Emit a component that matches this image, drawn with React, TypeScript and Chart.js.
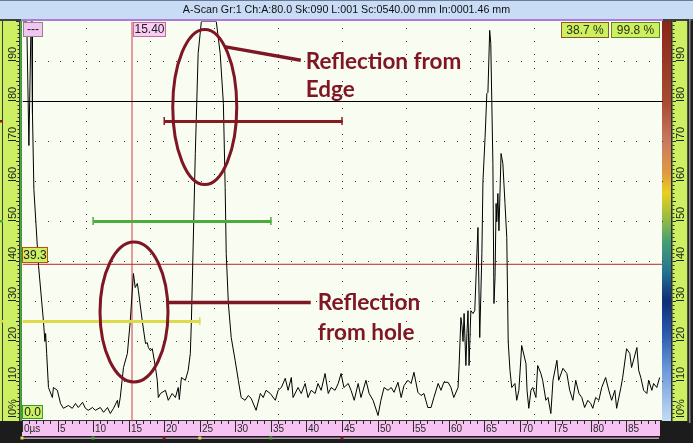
import React, { useEffect, useRef } from "react";
import { Chart, registerables } from "chart.js";

Chart.register(...registerables);

// ---------- DATA ----------
const traceTime = [
  0.0, 0.6, 0.9, 1.2, 1.3, 1.4, 1.6, 2.25, 2.95, 3.15, 3.25, 3.4, 3.65, 4.2, 4.35, 4.9, 5.35, 5.75, 6.45, 7.0,
  7.45, 7.85, 8.45, 8.85, 9.25, 9.85, 10.25, 10.95, 11.4, 11.95, 12.35, 12.8, 13.35, 13.5, 13.75, 14.2, 14.75, 15.15, 15.6, 15.85,
  16.15, 16.3, 16.85, 17.3, 17.55, 17.7, 18.0, 18.25, 18.7, 18.95, 19.1, 19.4, 20.1, 20.5, 21.05, 21.5, 21.9, 22.05, 22.35, 22.9,
  23.3, 23.6, 23.75, 24.3, 24.7, 25.15, 27.25, 27.8, 28.25, 28.5, 28.65, 28.95, 29.35, 29.9, 30.35, 30.75, 31.3, 31.75, 32.15, 32.85,
  33.45, 33.85, 34.25, 34.85, 35.55, 35.95, 36.4, 36.95, 37.35, 37.8, 38.05, 38.75, 39.2, 39.75, 40.15, 40.6, 41.15, 41.55, 42.0, 42.55,
  43.0, 43.4, 43.95, 44.4, 44.8, 45.2, 45.8, 46.2, 46.65, 47.2, 47.6, 48.3, 48.75, 49.3, 50.0, 50.4, 50.85, 51.4, 51.85, 52.25,
  52.8, 53.25, 53.65, 54.2, 54.65, 55.05, 55.6, 56.05, 56.45, 57.0, 57.45, 57.85, 58.45, 58.85, 59.25, 59.85, 60.25, 60.65, 61.25, 61.4,
  61.65, 61.8, 61.95, 62.1, 62.35, 62.5, 62.65, 62.8, 63.05, 63.35, 63.6, 63.9, 64.05, 64.3, 64.6, 64.75, 65.05, 65.3, 65.45, 65.7,
  65.85, 66.15, 66.3, 66.45, 66.6, 66.7, 66.85, 67.0, 67.3, 67.55, 67.85, 68.1, 68.3, 68.55, 68.8, 69.25, 69.5, 69.8, 70.2, 70.8,
  70.95, 71.2, 71.5, 71.75, 72.2, 72.45, 72.9, 73.15, 73.6, 73.9, 74.3, 74.6, 75.15, 75.4, 76.0, 76.55, 76.95, 77.4, 77.8, 78.25,
  78.65, 79.05, 79.5, 79.9, 80.2, 80.6, 81.05, 81.45, 82.0, 82.45, 82.85, 83.3, 83.55, 84.15, 84.4, 84.95, 85.4, 85.65, 86.4, 86.65,
  86.95, 87.35, 87.8, 88.05, 88.5, 88.75, 89.2, 89.6,
];
const traceAmp = [
  100, 100, 69, 100, 100, 77, 58, 39, 25, 20, 22, 17, 8.5, 6, 8.5, 7.8, 4.5, 3.3, 4, 3.3,
  4.5, 3.5, 4.8, 3.3, 2.8, 3.5, 2.8, 3.5, 2.3, 3.5, 2, 3.3, 5.3, 3.5, 6, 13.5, 17, 25, 37, 33.5,
  34.5, 32.7, 25, 19.5, 19.7, 18.5, 17.7, 18.2, 13.5, 10.3, 6, 7, 7.8, 5.3, 7, 6, 8.5, 5.5, 11, 10.3,
  12.8, 17, 25, 67, 92, 100, 100, 92, 79.5, 58.5, 42, 29.5, 21, 15.3, 10.3, 6, 5.3, 6.5, 5.8, 2.8,
  7, 6, 7.8, 7, 5.3, 7.8, 8.5, 10.8, 7.8, 11, 6, 8.5, 7, 9.5, 6, 7.8, 7, 9.5, 7.8, 12,
  7, 8.5, 7.8, 9.5, 12, 8.5, 9.5, 7.8, 5.3, 9.5, 6, 10.3, 7, 5.3, 1.5, 5.3, 8.5, 7.8, 8.5, 7.3,
  9.8, 6, 9, 10.3, 9.5, 12.3, 7.3, 6.5, 7, 3.5, 3.5, 6, 9.5, 7.8, 9.8, 9.8, 8.5, 6, 8.5, 14,
  26, 24, 20, 27, 14, 22, 27.7, 14, 27.7, 27, 27.7, 42, 48.5, 21, 42, 60, 71, 82, 82.3, 97.8,
  94.5, 64.5, 29.5, 36, 54.5, 50, 57, 47.7, 67, 64.5, 54.5, 46, 20, 12.8, 8.5, 9.5, 5.3, 7.8, 19, 14.5,
  7.8, 3.3, 7.8, 8.5, 6, 14, 12, 10.3, 5.3, 6, 2, 10.3, 15.3, 10.3, 13.3, 12, 7.8, 5.3, 10.3, 7,
  6, 3.5, 5.3, 4.5, 3.3, 6, 5.3, 8.5, 11, 7.8, 5.3, 7.8, 3.3, 8.5, 11, 18.2, 17, 13.5, 18.5, 12.8,
  11, 7.8, 7, 10.3, 7.8, 9.5, 8.5, 11,
];

const xTickValues = [0, 5, 10, 15, 20, 25, 30, 35, 40, 45, 50, 55, 60, 65, 70, 75, 80, 85];
const xTickLabels = ["0µs", "5", "10", "15", "20", "25", "30", "35", "40", "45", "50", "55", "60", "65", "70", "75", "80", "85"];
const yTickValues = [0, 10, 20, 30, 40, 50, 60, 70, 80, 90];
const yTickLabels = ["0%", "10", "20", "30", "40", "50", "60", "70", "80", "90"];
const gridTimes = [9, 18, 27, 36, 45, 54, 63, 72, 81];
const gridAmps = [10, 20, 30, 40, 50, 60, 70, 80, 90];

const gateStart = [0, 10, 20];
const gateEnd = [25, 35, 45];
const gateLevel = [25, 50, 75];

const refLevel = 80;
const cursorTime = 15.4;
const cursorAmp = 39.3;
const readouts = ["38.7 %", "99.8 %"];
const titleText = "A-Scan Gr:1 Ch:A:80.0 Sk:090 L:001 Sc:0540.00 mm In:0001.46 mm";
const edgeLabel = ["Reflection from", "Edge"];
const holeLabel = ["Reflection", "from hole"];

// ---------- STYLE / LAYOUT ----------
const W = 693;
const H = 443;
const GATE_COLORS = ["#dcdc48", "#4cac3c", "#861c22"];
const MAROON = "#7e1624";
const LIME = "#ccf062";
const PINK = "#f6c2f2";

// annotation geometry in data units
const ellipses = [
  { cx: 25.7, cy: 78.5, rx: 4.5, ry: 19.4 },
  { cx: 15.75, cy: 27.25, rx: 4.78, ry: 17.5 },
];
const pointers = [
  { x1: 28.45, y1: 93.6, x2: 39.2, y2: 90.2 },
  { x1: 20.5, y1: 29.6, x2: 40.6, y2: 29.6 },
];
const textSpots = [
  { x: 39.9, y: 89.7, t: edgeLabel[0] },
  { x: 39.9, y: 82.8, t: edgeLabel[1] },
  { x: 41.6, y: 29.5, t: holeLabel[0] },
  { x: 41.6, y: 22.0, t: holeLabel[1] },
];

function box(ctx: CanvasRenderingContext2D, x: number, y: number, w: number, h: number, bg: string, border: string, text: string, color: string) {
  x = Math.round(x);
  y = Math.round(y);
  ctx.fillStyle = bg;
  ctx.fillRect(x, y, w, h);
  ctx.strokeStyle = border;
  ctx.lineWidth = 1;
  ctx.strokeRect(x + 0.5, y + 0.5, w - 1, h - 1);
  ctx.fillStyle = color;
  ctx.font = "12px 'Liberation Sans', Arial, sans-serif";
  ctx.textAlign = "center";
  ctx.textBaseline = "middle";
  ctx.fillText(text, x + w / 2, y + h / 2 + 0.5);
}

function rotLabel(ctx: CanvasRenderingContext2D, cx: number, cy: number, text: string) {
  ctx.save();
  ctx.translate(cx, Math.round(cy));
  ctx.rotate(-Math.PI / 2);
  ctx.strokeStyle = "#202020";
  ctx.lineWidth = 1;
  ctx.beginPath();
  ctx.moveTo(0.5, -4);
  ctx.lineTo(0.5, 4);
  ctx.stroke();
  ctx.fillStyle = "#202020";
  ctx.font = "11px 'Liberation Sans', Arial, sans-serif";
  ctx.textAlign = "left";
  ctx.textBaseline = "middle";
  ctx.fillText(text, 2, 0.5);
  ctx.restore();
}

const decorPlugin = {
  id: "decor",
  beforeDraw(chart: any) {
    const { ctx, chartArea: a, scales } = chart;
    const xs = scales.x;
    const ys = scales.y;
    ctx.save();
    ctx.fillStyle = "#1c1c1c";
    ctx.fillRect(0, 0, W, H);
    // title bar
    ctx.fillStyle = "#c8dcf6";
    ctx.fillRect(0, 1, W, 18);
    ctx.fillStyle = "#6a7a90";
    ctx.fillRect(0, 0, W, 1);
    ctx.fillStyle = "#404040";
    ctx.fillRect(0, 19, W, 2);
    ctx.fillStyle = "#b07ad8";
    ctx.fillRect(a.left - 1, 19, a.width + 2, 2);
    ctx.fillStyle = "#101010";
    ctx.font = "10.7px 'Liberation Sans', Arial, sans-serif";
    ctx.textAlign = "center";
    ctx.textBaseline = "middle";
    ctx.fillText(titleText, W / 2, 10);

    // plot background
    ctx.fillStyle = "#f9fcf0";
    ctx.fillRect(a.left, a.top, a.width, a.height);

    // left strip
    ctx.fillStyle = LIME;
    ctx.fillRect(0, a.top, a.left, a.height);
    ctx.fillStyle = "#3a3a3a";
    ctx.fillRect(2, a.top, 1, a.height);
    ctx.fillRect(19, a.top, 1.5, a.height);
    ctx.fillStyle = "#38a038";
    ctx.fillRect(a.left - 1.5, a.top, 1.5, a.height);
    ctx.fillStyle = "#2a2a2a";
    for (let v = 0; v <= 100; v += 1) {
      const py = Math.round(ys.getPixelForValue(v));
      ctx.fillRect(v % 5 === 0 ? 16 : 17.5, py, v % 5 === 0 ? 3 : 1.5, 1);
    }
    for (let i = 0; i < yTickValues.length; i++) {
      const v = yTickValues[i];
      const py = v === 0 ? a.bottom - 4 : ys.getPixelForValue(v);
      rotLabel(ctx, 12, py, yTickLabels[i]);
    }
    // gate level markers at far left
    for (let i = 0; i < gateLevel.length; i++) {
      ctx.fillStyle = GATE_COLORS[i];
      ctx.fillRect(0, ys.getPixelForValue(gateLevel[i]) - 1, 3, 2.5);
    }

    // right colour bar
    const g = ctx.createLinearGradient(0, a.top, 0, a.bottom);
    g.addColorStop(0, "#8a2418");
    g.addColorStop(0.2, "#a84a30");
    g.addColorStop(0.3, "#c87a60");
    g.addColorStop(0.38, "#e09a40");
    g.addColorStop(0.43, "#e8d020");
    g.addColorStop(0.5, "#90b848");
    g.addColorStop(0.55, "#48a070");
    g.addColorStop(0.62, "#287890");
    g.addColorStop(0.7, "#102c78");
    g.addColorStop(0.78, "#2a58b0");
    g.addColorStop(0.87, "#6a98d8");
    g.addColorStop(1, "#c4dcf4");
    ctx.fillStyle = g;
    ctx.fillRect(a.right, a.top, 9, a.height);
    ctx.fillStyle = "#303030";
    ctx.fillRect(a.right + 9, a.top, 1.5, a.height);
    ctx.fillStyle = LIME;
    ctx.fillRect(a.right + 10.5, a.top, 15, a.height);
    ctx.fillStyle = "#2a2a2a";
    ctx.fillRect(a.right + 25.5, a.top - 2, 1.5, a.height + 4);
    ctx.fillStyle = "#8a8a8a";
    ctx.fillRect(a.right + 27, a.top - 2, 1.5, a.height + 4);
    ctx.fillStyle = "#2a2a2a";
    for (let v = 0; v <= 100; v += 1) {
      const py = Math.round(ys.getPixelForValue(v));
      ctx.fillRect(a.right + 10.5, py, v % 5 === 0 ? 3.5 : 2, 1);
    }
    for (let i = 0; i < yTickValues.length; i++) {
      const v = yTickValues[i];
      const py = v === 0 ? a.bottom - 4 : ys.getPixelForValue(v);
      rotLabel(ctx, a.right + 18, py, yTickLabels[i]);
    }

    // bottom time strip
    const stripTop = a.bottom;
    ctx.fillStyle = PINK;
    ctx.fillRect(a.left, stripTop, a.width - 2, 15);
    ctx.fillStyle = "#2a2a2a";
    for (let v = 0; v <= 89; v += 1) {
      const px = Math.round(xs.getPixelForValue(v));
      ctx.fillRect(px, stripTop, 1, v % 5 === 0 ? 11 : 3);
    }
    ctx.font = "10px 'Liberation Sans', Arial, sans-serif";
    ctx.textAlign = "left";
    ctx.textBaseline = "alphabetic";
    for (let i = 0; i < xTickValues.length; i++) {
      const px = Math.round(xs.getPixelForValue(xTickValues[i]));
      ctx.fillText(xTickLabels[i], px + 2, stripTop + 11);
    }
    ctx.fillStyle = "#b89ab8";
    ctx.fillRect(a.left, stripTop + 16.5, a.width - 3, 1.5);
    for (let i = 0; i < gateStart.length; i++) {
      ctx.fillStyle = GATE_COLORS[i];
      ctx.fillRect(xs.getPixelForValue(gateStart[i]) - 1.5, stripTop + 15.5, 3, 3);
      ctx.fillRect(xs.getPixelForValue(gateEnd[i]) - 1.5, stripTop + 15.5, 3, 3);
    }
    ctx.restore();
  },
  beforeDatasetsDraw(chart: any) {
    const { ctx, chartArea: a, scales } = chart;
    const xs = scales.x;
    const ys = scales.y;
    ctx.save();
    ctx.fillStyle = "#3c3c3c";
    // horizontal dotted rows
    for (const v of gridAmps) {
      const py = Math.round(ys.getPixelForValue(v));
      for (let t = 1.8; t < 90; t += 1.8) {
        ctx.fillRect(Math.round(xs.getPixelForValue(t)), py, 1, 1);
      }
    }
    // vertical dotted columns
    for (const t of gridTimes) {
      const px = Math.round(xs.getPixelForValue(t));
      for (let v = 98.3; v > 0; v -= 10 / 3) {
        ctx.fillRect(px, Math.round(ys.getPixelForValue(v)), 1, 1);
      }
    }
    ctx.fillStyle = "#303030";
    ctx.fillRect(a.left, a.bottom - 1, a.width, 1);
    ctx.restore();
  },
  beforeDatasetDraw(chart: any) {
    // align thin strokes to the pixel grid
    chart.ctx.save();
    chart.ctx.translate(0.5, 0.5);
  },
  afterDatasetDraw(chart: any) {
    chart.ctx.restore();
  },
  afterDatasetsDraw(chart: any) {
    const { ctx, chartArea: a, scales } = chart;
    const xs = scales.x;
    const ys = scales.y;
    ctx.save();
    // gate end ticks
    for (let i = 0; i < gateStart.length; i++) {
      ctx.fillStyle = GATE_COLORS[i];
      const py = ys.getPixelForValue(gateLevel[i]);
      for (const t of [gateStart[i], gateEnd[i]]) {
        const px = xs.getPixelForValue(t);
        if (px > a.left + 2) ctx.fillRect(px - 0.75, py - 4, 1.5, 8);
      }
    }
    // ellipses
    ctx.strokeStyle = MAROON;
    ctx.lineWidth = 3;
    for (const e of ellipses) {
      const cx = xs.getPixelForValue(e.cx);
      const cy = ys.getPixelForValue(e.cy);
      const rx = xs.getPixelForValue(e.cx + e.rx) - cx;
      const ry = cy - ys.getPixelForValue(e.cy + e.ry);
      ctx.beginPath();
      ctx.ellipse(cx, cy, rx, ry, 0, 0, Math.PI * 2);
      ctx.stroke();
    }
    ctx.lineWidth = 3.5;
    for (const p of pointers) {
      ctx.beginPath();
      ctx.moveTo(xs.getPixelForValue(p.x1), ys.getPixelForValue(p.y1));
      ctx.lineTo(xs.getPixelForValue(p.x2), ys.getPixelForValue(p.y2));
      ctx.stroke();
    }
    ctx.fillStyle = MAROON;
    ctx.font = "bold 22.5px Lato, 'Open Sans', sans-serif";
    ctx.textAlign = "left";
    ctx.textBaseline = "middle";
    for (const s of textSpots) {
      ctx.fillText(s.t, xs.getPixelForValue(s.x), ys.getPixelForValue(s.y));
    }
    // readout boxes
    box(ctx, a.left + 1, a.top + 1, 20, 15, "#f2c6f0", "#8a8a8a", "---", "#202020");
    box(ctx, xs.getPixelForValue(cursorTime) + 1, a.top + 1, 33, 15, "#f8cef6", "#c07090", cursorTime.toFixed(2), "#202020");
    box(ctx, a.right - 101, a.top + 1, 48, 16, LIME, "#8a5a20", readouts[0], "#303010");
    box(ctx, a.right - 51, a.top + 1, 49, 16, LIME, "#5a8a20", readouts[1], "#303010");
    const cy = ys.getPixelForValue(cursorAmp);
    box(ctx, a.left, cy - 17, 26, 16, LIME, "#c05010", cursorAmp.toFixed(1), "#202020");
    box(ctx, a.left, a.bottom - 16, 21, 14, LIME, "#30a030", "0.0", "#202020");
    ctx.restore();
  },
};

export default function App() {
  const ref = useRef<HTMLCanvasElement | null>(null);
  useEffect(() => {
    if (!ref.current) return;
    const trace = traceTime.map((t, i) => ({ x: t, y: traceAmp[i] }));
    const gateSets = gateStart.map((s, i) => ({
      data: [
        { x: s, y: gateLevel[i] },
        { x: gateEnd[i], y: gateLevel[i] },
      ],
      borderColor: GATE_COLORS[i],
      borderWidth: 3,
      pointRadius: 0,
      order: 1,
    }));
    const chart = new Chart(ref.current, {
      type: "line",
      data: {
        datasets: [
          ...gateSets,
          {
            data: trace,
            borderColor: "#000000",
            borderWidth: 1,
            pointRadius: 0,
            tension: 0,
            order: 2,
          },
          {
            data: [
              { x: 0, y: refLevel },
              { x: 90, y: refLevel },
            ],
            borderColor: "#000000",
            borderWidth: 1,
            pointRadius: 0,
            order: 3,
          },
          {
            data: [
              { x: 0, y: cursorAmp },
              { x: 90, y: cursorAmp },
            ],
            borderColor: "#b02c30",
            borderWidth: 1,
            pointRadius: 0,
            order: 3,
          },
          {
            data: [
              { x: cursorTime, y: 0 },
              { x: cursorTime, y: 100 },
            ],
            borderColor: "#d03848",
            borderWidth: 1,
            pointRadius: 0,
            order: 3,
          },
        ],
      } as any,
      options: {
        animation: false,
        responsive: false,
        maintainAspectRatio: false,
        layout: { padding: { left: 22, right: 31, top: 21, bottom: 22 } },
        scales: {
          x: { type: "linear", min: 0, max: 90, display: false },
          y: { type: "linear", min: 0, max: 100, display: false },
        },
        plugins: { legend: { display: false }, tooltip: { enabled: false } },
        elements: { line: { borderCapStyle: "butt" } },
      } as any,
      plugins: [decorPlugin],
    });
    return () => chart.destroy();
  }, []);
  return (
    <div style={{ position: "absolute", left: 0, top: 0, width: W, height: H }}>
      <canvas ref={ref} width={W} height={H} style={{ display: "block", width: W, height: H }} />
    </div>
  );
}
